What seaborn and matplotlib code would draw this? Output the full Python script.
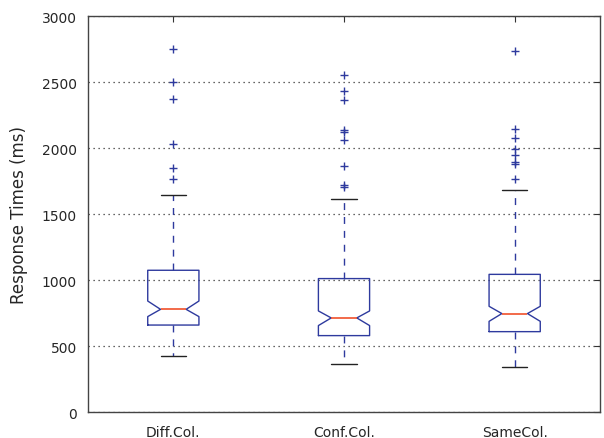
import matplotlib
matplotlib.use("Agg")
import matplotlib.pyplot as plt
import seaborn as sns

categories = ["Diff.Col.", "Conf.Col.", "SameCol."]
whislo = [427, 364, 343]
q1 = [661, 581, 611]
med = [780, 715, 748]
q3 = [1076, 1013, 1045]
whishi = [1649, 1616, 1684]
cilo = [725, 657, 689]
cihi = [843, 768, 803]
fliers = [
    [2755, 2500, 2370, 2030, 1848, 1765],
    [2555, 2437, 2369, 2142, 2124, 2066, 1866, 1720, 1705],
    [2735, 2144, 2081, 1992, 1952, 1899, 1881, 1768],
]
yticks = [0, 500, 1000, 1500, 2000, 2500, 3000]

sns.set_style("white")
plt.rcParams["font.family"] = ["DejaVu Sans"]

fig = plt.figure(figsize=(6.04, 4.39), dpi=100)
ax = fig.add_axes([88 / 604, (439 - 413.3) / 439, 512 / 604, (413.3 - 17.3) / 439])

stats = []
for i, name in enumerate(categories):
    stats.append(dict(label=name, whislo=whislo[i], q1=q1[i], med=med[i], q3=q3[i],
                      whishi=whishi[i], cilo=cilo[i], cihi=cihi[i], fliers=fliers[i]))

blue = "#2e3a9e"
ax.bxp(stats, positions=[1, 2, 3], widths=0.3, shownotches=True,
       boxprops=dict(color=blue, linewidth=1.0),
       medianprops=dict(color="#f0502a", linewidth=1.2),
       whiskerprops=dict(color=blue, linewidth=1.0, linestyle=(0, (5, 5))),
       capprops=dict(color="#222222", linewidth=1.0),
       flierprops=dict(marker="+", markeredgecolor=blue, markersize=6,
                       markeredgewidth=1.0, linestyle="none"))

ax.set_xlim(0.5, 3.5)
ax.set_ylim(0, 3000)
ax.set_yticks(yticks)
ax.set_xticks([1, 2, 3])
ax.set_xticklabels(categories)
ax.yaxis.grid(True, linestyle=(0, (1, 3)), color="#333333", linewidth=0.9)
ax.xaxis.grid(False)
ax.set_axisbelow(True)
ax.tick_params(direction="in", length=4, width=0.8, top=True, right=True,
               labelsize=10, colors="#333333", labelcolor="#262626")
ax.tick_params(axis="x", pad=9)
ax.tick_params(axis="y", pad=8)
for s in ax.spines.values():
    s.set_color("#444444")
    s.set_linewidth(1.0)
ax.set_ylabel("Response Times (ms)", fontsize=12, color="#262626", labelpad=10)

fig.savefig("out.png", dpi=100)
